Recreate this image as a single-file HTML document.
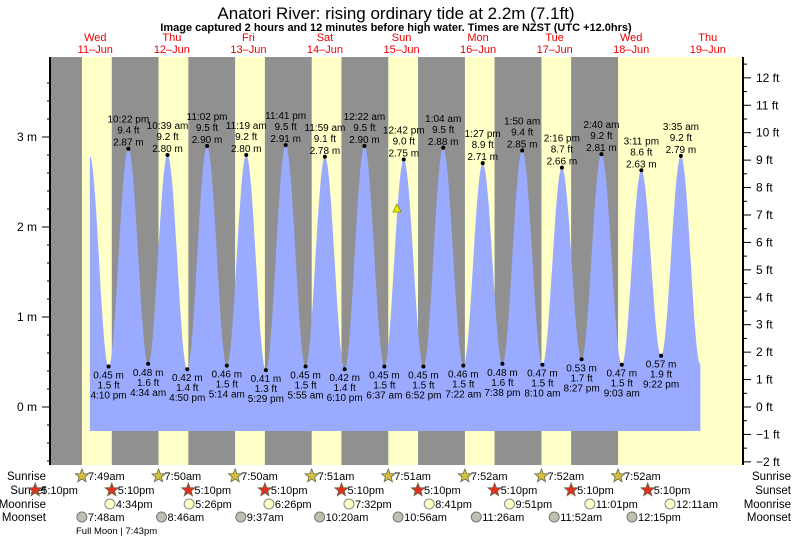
<!DOCTYPE html>
<html><head><meta charset="utf-8"><style>
body{margin:0;background:#fff;}
svg{display:block;font-family:"Liberation Sans",sans-serif;}
</style></head><body>
<svg id="s" width="793" height="539" xmlns="http://www.w3.org/2000/svg"></svg>
<script>
const S=document.getElementById('s');
let h='';
const X=t=>57+t*3.19, Y=m=>407-m*90;
h+='<text x="396" y="19" font-size="17" text-anchor="middle">Anatori River: rising  ordinary tide at 2.2m (7.1ft)</text>';
h+='<text x="396" y="31" font-size="11" font-weight="bold" text-anchor="middle">Image captured 2 hours and 12 minutes before high water. Times are NZST (UTC +12.0hrs)</text>';
const days=['Wed','Thu','Fri','Sat','Sun','Mon','Tue','Wed','Thu'];
for(let k=0;k<9;k++){const x=95.3+76.56*k;
h+=`<text x="${x}" y="41" font-size="11" fill="#e00" text-anchor="middle">${days[k]}</text><text x="${x}" y="53" font-size="11" fill="#e00" text-anchor="middle">${11+k}–Jun</text>`;}
h+='<rect x="50" y="57" width="693" height="408" fill="#909090"/>';
const sr=[7.82,7.83,7.83,7.85,7.85,7.87,7.87,7.87];
for(let k=0;k<8;k++){const a=X(24*k+sr[k]),b=X(24*k+17.17);h+=`<rect x="${a}" y="57" width="${k==7?743-a:b-a}" height="408" fill="#ffffc8"/>`;}
const E=[[10.2,2.8],[16.17,.45],[22.37,2.87],[28.57,.48],[34.65,2.80],[40.83,.42],[47.03,2.90],[53.23,.46],[59.32,2.80],[65.48,.41],[71.68,2.91],[77.92,.45],[83.98,2.78],[90.17,.42],[96.37,2.90],[102.62,.45],[108.7,2.75],[114.87,.45],[121.07,2.88],[127.37,.46],[133.45,2.71],[139.63,.48],[145.83,2.85],[152.17,.47],[158.27,2.66],[164.45,.53],[170.67,2.81],[177.05,.47],[183.18,2.63],[189.37,.57],[195.58,2.79],[201.7,.47]];
let p=`M${X(10.3)} 431 L${X(10.3)} ${Y(2.78)}`;
for(let i=0;i<E.length-1;i++){const [t0,h0]=E[i],[t1,h1]=E[i+1];for(let j=1;j<=24;j++){const f=j/24,t=t0+(t1-t0)*f;if(t<10.3)continue;const v=h0+(h1-h0)*(1-Math.cos(Math.PI*f))/2;p+=` L${X(t).toFixed(1)} ${Y(v).toFixed(1)}`;}}
p+=` L${X(201.7)} 431 Z`;
h+=`<path d="${p}" fill="#9aabff"/>`;
const L=[['4:10 pm','1.5'],['10:22 pm','9.4'],['4:34 am','1.6'],['10:39 am','9.2'],['4:50 pm','1.4'],['11:02 pm','9.5'],['5:14 am','1.5'],['11:19 am','9.2'],['5:29 pm','1.3'],['11:41 pm','9.5'],['5:55 am','1.5'],['11:59 am','9.1'],['6:10 pm','1.4'],['12:22 am','9.5'],['6:37 am','1.5'],['12:42 pm','9.0'],['6:52 pm','1.5'],['1:04 am','9.5'],['7:22 am','1.5'],['1:27 pm','8.9'],['7:38 pm','1.6'],['1:50 am','9.4'],['8:10 am','1.5'],['2:16 pm','8.7'],['8:27 pm','1.7'],['2:40 am','9.2'],['9:03 am','1.5'],['3:11 pm','8.6'],['9:22 pm','1.9'],['3:35 am','9.2']];
for(let i=1;i<=30;i++){const [t,m]=E[i],[tm,ft]=L[i-1],x=X(t),y=Y(m);
h+=`<circle cx="${x}" cy="${y}" r="2" fill="#000"/>`;
const ts=`font-size="10" text-anchor="middle"`;
if(m>1){h+=`<text x="${x}" y="${y-26}" ${ts}>${tm}</text><text x="${x}" y="${y-15}" ${ts}>${ft} ft</text><text x="${x}" y="${y-3}" ${ts}>${m.toFixed(2)} m</text>`;}
else{h+=`<text x="${x}" y="${y+12}" ${ts}>${m.toFixed(2)} m</text><text x="${x}" y="${y+22}" ${ts}>${ft} ft</text><text x="${x}" y="${y+32}" ${ts}>${tm}</text>`;}}
h+=`<polygon points="393,212 397,204 401,212" fill="#ee0" stroke="#880" stroke-width="0.8"/>`;
h+='<line x1="50" y1="57" x2="50" y2="465" stroke="#000" stroke-width="2"/><line x1="743" y1="57" x2="743" y2="465" stroke="#000" stroke-width="2"/>';
for(let m=-0.6;m<=3.8;m+=0.2){const y=Y(m);if(y<58||y>464)continue;const maj=Math.abs(m-Math.round(m))<0.01;h+=`<line x1="${maj?42:47}" y1="${y}" x2="50" y2="${y}" stroke="#000"/>`;if(maj)h+=`<text x="37" y="${y+4}" font-size="12" text-anchor="end">${Math.round(m)} m</text>`;}
for(let f=-2;f<=12.5;f+=0.5){const y=407-f*27.43;const maj=f%1==0;h+=`<line x1="743" y1="${y}" x2="${maj?751:747}" y2="${y}" stroke="#000"/>`;if(maj)h+=`<text x="756" y="${y+4}" font-size="12">${f<0?'−'+(-f):f} ft</text>`;}
const rows=[['Sunrise',480],['Sunset',494],['Moonrise',508],['Moonset',521]];
for(const [n,y] of rows){h+=`<text x="46" y="${y}" font-size="11.5" text-anchor="end">${n}</text><text x="791" y="${y}" font-size="11.5" text-anchor="end">${n}</text>`;}
function star(x,y,c){let q='';for(let i=0;i<10;i++){const r=i%2?3:7,a=-Math.PI/2+i*Math.PI/5;q+=(x+r*Math.cos(a)).toFixed(1)+','+(y+r*Math.sin(a)).toFixed(1)+' ';}return `<polygon points="${q}" fill="${c}" stroke="#664" stroke-width="0.8"/>`;}
const srt=['7:49am','7:50am','7:50am','7:51am','7:51am','7:52am','7:52am','7:52am'];
for(let k=0;k<8;k++){const x=X(24*k+sr[k]);h+=star(x,476,'#d4c040')+`<text x="${x+6}" y="480" font-size="11">${srt[k]}</text>`;}
for(let k=-1;k<8;k++){const x=X(24*k+17.17);h+=star(x,490,'#e03020')+`<text x="${x+6}" y="494" font-size="11">5:10pm</text>`;}
const mr=[[16.57,'4:34pm'],[41.43,'5:26pm'],[66.43,'6:26pm'],[91.53,'7:32pm'],[116.68,'8:41pm'],[141.85,'9:51pm'],[167.02,'11:01pm'],[192.18,'12:11am']];
for(const [t,s] of mr){const x=X(t);h+=`<circle cx="${x}" cy="504" r="5" fill="#ffffc8" stroke="#888"/><text x="${x+6}" y="508" font-size="11">${s}</text>`;}
const ms=[[7.8,'7:48am'],[32.77,'8:46am'],[57.62,'9:37am'],[82.33,'10:20am'],[106.93,'10:56am'],[131.43,'11:26am'],[155.87,'11:52am'],[180.25,'12:15pm']];
for(const [t,s] of ms){const x=X(t);h+=`<circle cx="${x}" cy="517" r="5" fill="#c0c0b0" stroke="#777"/><text x="${x+6}" y="521" font-size="11">${s}</text>`;}
h+='<text x="76" y="534" font-size="9.5">Full Moon | 7:43pm</text>';
S.innerHTML=h;
</script>
</body></html>
